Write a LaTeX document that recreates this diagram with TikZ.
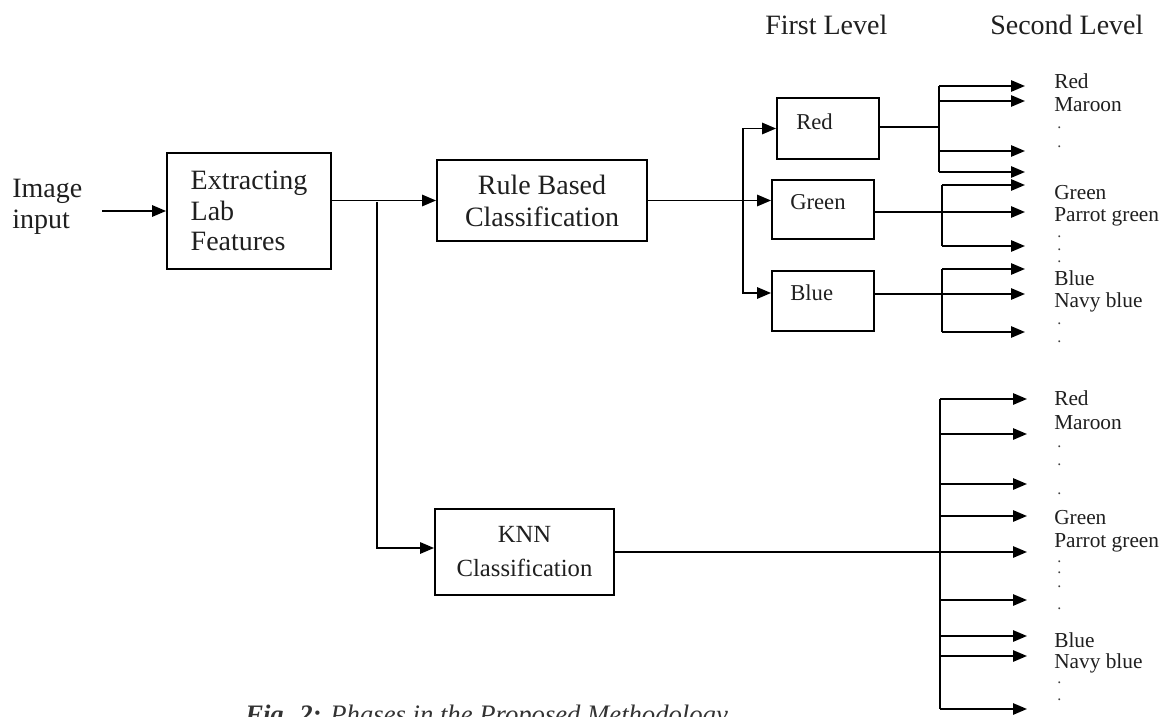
\documentclass[tikz,border=0pt]{standalone}
\usepackage{fontspec}
\setmainfont{Liberation Serif}
\usetikzlibrary{arrows.meta}
\begin{document}
\begin{tikzpicture}[x=0.75pt,y=-0.75pt,
  ln/.style={line width=1.35pt,black},
  arr/.style={ln,-{Triangle[length=10.5pt,width=8.5pt]}},
  box/.style={draw,ln,inner sep=0pt},
  bigtxt/.style={font=\fontsize{21}{23}\selectfont,text=black!88},
  midtxt/.style={font=\fontsize{17}{20}\selectfont,text=black!88},
  smalltxt/.style={font=\fontsize{16}{18}\selectfont,text=black!88,anchor=west,inner sep=0pt},
  dotlbl/.style={font=\fontsize{12}{12}\selectfont,text=black!75,anchor=west,inner sep=0pt}]
\useasboundingbox (0,0) rectangle (1165,717);
\clip (0,0) rectangle (1165,717);

% headers
\node[bigtxt,anchor=west,inner sep=0pt] (h1) at (765,25) {First Level};
\node[bigtxt,anchor=west,inner sep=0pt] (h2) at (990,25) {Second Level};

% main chain
\node[bigtxt,anchor=west,align=left,inner sep=0pt] (img) at (12,207) {Image\\input};
\node[box,bigtxt,align=left,minimum width=123pt,minimum height=87pt] (ext) at (249,211) {Extracting\\Lab\\Features};
\node[box,bigtxt,align=center,font=\fontsize{21}{24}\selectfont,minimum width=157.5pt,minimum height=60.75pt] (rule) at (542,200.5) {Rule Based\\Classification};
\node[box,align=center,font=\fontsize{18.5}{25.5}\selectfont,text=black!88,minimum width=134.25pt,minimum height=64.5pt] (knn) at (524.5,552) {KNN\\Classification};

% first level boxes
\node[box,minimum width=76.5pt,minimum height=45.75pt] (red) at (828,128.5) {};
\node[box,minimum width=76.5pt,minimum height=44.25pt] (green) at (823,209.5) {};
\node[box,minimum width=76.5pt,minimum height=45pt] (blue) at (823,301) {};
\node[midtxt,anchor=west,inner sep=0pt] (redt) at (796,122) {Red};
\node[midtxt,anchor=west,inner sep=0pt] (greent) at (790,202) {Green};
\node[midtxt,anchor=west,inner sep=0pt] (bluet) at (790,293) {Blue};

% connectors main
\coordinate (imgout) at (102,211);
\draw[arr] (imgout) -- (ext.west);
\draw[arr] (rule.west -| ext.east) -- (rule.west);
\coordinate (j1) at (377,202);
\draw[arr] (j1) |- ([yshift=3pt]knn.west);
\draw[arr] (rule.east) -- (rule.east -| green.west);
\coordinate (j2) at (743,200.5);
\draw[arr] (j2) |- (red.west);
\draw[arr] (j2) |- ([yshift=6pt]blue.west);

% red second level
\coordinate (rt1) at (1025,86);
\coordinate (rt2) at (1025,101);
\coordinate (rt3) at (1025,151);
\coordinate (rt4) at (1025,172);
\coordinate (rb) at (939,127);
\draw[ln] (red.east |- rb) -- (rb);
\draw[ln] (rb |- rt1) -- (rb |- rt4);
\foreach \t in {rt1,rt2,rt3,rt4} \draw[arr] (rb |- \t) -- (\t);

% green second level
\coordinate (gt1) at (1025,185);
\coordinate (gt2) at (1025,212);
\coordinate (gt3) at (1025,246);
\coordinate (gb) at (942,212);
\draw[ln] (gb |- gt1) -- (gb |- gt3);
\draw[arr] (green.east |- gt2) -- (gt2);
\draw[arr] (gb |- gt1) -- (gt1);
\draw[arr] (gb |- gt3) -- (gt3);

% blue second level
\coordinate (bt1) at (1025,269);
\coordinate (bt2) at (1025,294);
\coordinate (bt3) at (1025,332);
\coordinate (bb) at (942,294);
\draw[ln] (bb |- bt1) -- (bb |- bt3);
\draw[arr] (blue.east |- bt2) -- (bt2);
\draw[arr] (bb |- bt1) -- (bt1);
\draw[arr] (bb |- bt3) -- (bt3);

% knn second level
\coordinate (kb) at (940,552);
\coordinate (kt1) at (1027,399);
\coordinate (kt2) at (1027,434);
\coordinate (kt3) at (1027,484);
\coordinate (kt4) at (1027,516);
\coordinate (kt5) at (1027,552);
\coordinate (kt6) at (1027,600);
\coordinate (kt7) at (1027,636);
\coordinate (kt8) at (1027,656);
\coordinate (kt9) at (1027,709);
\draw[ln] (kb |- kt1) -- (kb |- kt9);
\draw[arr] (knn.east) -- (kt5);
\foreach \t in {kt1,kt2,kt3,kt4,kt6,kt7,kt8,kt9} \draw[arr] (kb |- \t) -- (\t);

% second level labels (top)
\node[smalltxt] (l1) at (1054,81) {Red};
\node[smalltxt] (l2) at (1054,105) {Maroon};
\node[dotlbl] (d1) at (1057,128) {.};
\node[dotlbl] (d2) at (1057,147) {.};
\node[smalltxt] (l3) at (1054,193) {Green};
\node[smalltxt] (l4) at (1054,217) {Parrot green};
\node[dotlbl] (d3) at (1057,237) {.};
\node[dotlbl] (d4) at (1057,250) {.};
\node[dotlbl] (d5) at (1057,262) {.};
\node[smalltxt] (l5) at (1054,278) {Blue};
\node[smalltxt] (l6) at (1054,302) {Navy blue};
\node[dotlbl] (d6) at (1057,324) {.};
\node[dotlbl] (d7) at (1057,342) {.};

% second level labels (knn)
\node[smalltxt] (m1) at (1054,398) {Red};
\node[smalltxt] (m2) at (1054,423) {Maroon};
\node[dotlbl] (e1) at (1057,447) {.};
\node[dotlbl] (e2) at (1057,465) {.};
\node[dotlbl] (e3) at (1057,494) {.};
\node[smalltxt] (m3) at (1054,518) {Green};
\node[smalltxt] (m4) at (1054,543) {Parrot green};
\node[dotlbl] (e4) at (1057,562) {.};
\node[dotlbl] (e5) at (1057,573) {.};
\node[dotlbl] (e6) at (1057,587) {.};
\node[dotlbl] (e7) at (1057,609) {.};
\node[smalltxt] (m5) at (1054,640) {Blue};
\node[smalltxt] (m6) at (1054,663) {Navy blue};
\node[dotlbl] (e8) at (1057,683) {.};
\node[dotlbl] (e9) at (1057,700) {.};

% caption (cut off at the bottom edge, as in the reference)
\node[anchor=north west,inner sep=0pt,font=\fontsize{20}{22}\selectfont\itshape,text=black!80] (cap) at (245,705) {\textbf{Fig. 2:} Phases in the Proposed Methodology};
\end{tikzpicture}
\end{document}
